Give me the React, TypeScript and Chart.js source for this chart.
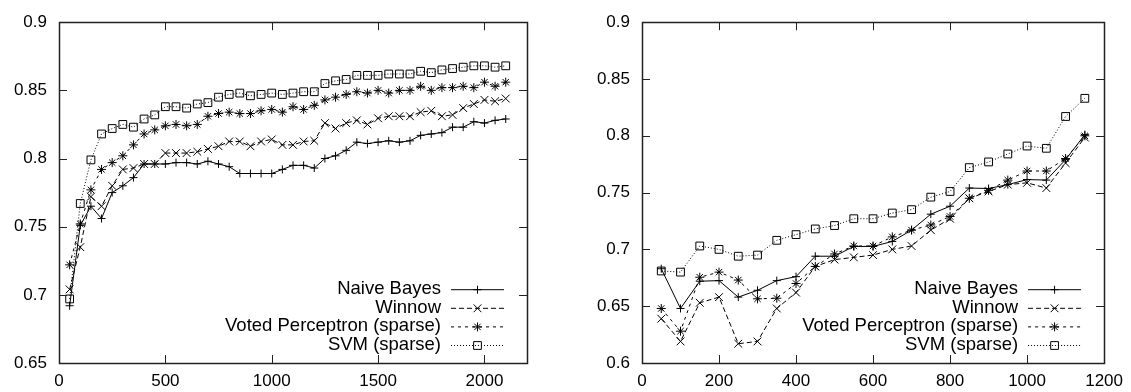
import React, { useEffect, useRef } from "react";
import { Chart, registerables } from "chart.js";

Chart.register(...registerables);

// ---------------- data ----------------
const SERIES_LABELS = ["Naive Bayes", "Winnow", "Voted Perceptron (sparse)", "SVM (sparse)"];

const leftXTicks = [0, 500, 1000, 1500, 2000];
const leftYTicks = [0.65, 0.7, 0.75, 0.8, 0.85, 0.9];
const rightXTicks = [0, 200, 400, 600, 800, 1000, 1200];
const rightYTicks = [0.6, 0.65, 0.7, 0.75, 0.8, 0.85, 0.9];

const leftX = [
  50, 100, 150, 200, 250, 300, 350, 400, 450, 500, 550, 600, 650, 700, 750, 800, 850, 900, 950, 1000, 1050,
  1100, 1150, 1200, 1250, 1300, 1350, 1400, 1450, 1500, 1550, 1600, 1650, 1700, 1750, 1800, 1850, 1900, 1950,
  2000, 2050, 2100,
];
const leftNaiveBayes = [
  0.692, 0.751, 0.765, 0.756, 0.775, 0.78, 0.786, 0.796, 0.796, 0.796, 0.797, 0.797, 0.796, 0.798, 0.796, 0.794,
  0.789, 0.789, 0.789, 0.789, 0.792, 0.795, 0.795, 0.793, 0.8, 0.802, 0.806, 0.812, 0.811, 0.812, 0.813, 0.812,
  0.813, 0.817, 0.818, 0.819, 0.823, 0.823, 0.827, 0.826, 0.828, 0.829,
];
const leftWinnow = [
  0.704, 0.735, 0.772, 0.765, 0.78, 0.792, 0.793, 0.796, 0.796, 0.804, 0.804, 0.804, 0.805, 0.807, 0.809, 0.8125,
  0.8125, 0.809, 0.8125, 0.814, 0.81, 0.81, 0.8125, 0.813, 0.826, 0.822, 0.826, 0.828, 0.825, 0.8295, 0.831, 0.831,
  0.831, 0.834, 0.835, 0.831, 0.832, 0.837, 0.84, 0.843, 0.842, 0.844,
];
const leftVoted = [
  0.722, 0.752, 0.777, 0.792, 0.797, 0.802, 0.81, 0.818, 0.821, 0.824, 0.825, 0.824, 0.825, 0.831, 0.833, 0.834,
  0.833, 0.833, 0.835, 0.836, 0.834, 0.838, 0.836, 0.839, 0.843, 0.845, 0.847, 0.849, 0.848, 0.85, 0.848, 0.85,
  0.85, 0.853, 0.85, 0.852, 0.852, 0.853, 0.852, 0.856, 0.853, 0.856,
];
const leftSvm = [
  0.697, 0.767, 0.799, 0.818, 0.822, 0.825, 0.823, 0.829, 0.832, 0.838, 0.838, 0.837, 0.84, 0.841, 0.845, 0.847,
  0.848, 0.846, 0.847, 0.848, 0.847, 0.848, 0.849, 0.849, 0.855, 0.857, 0.858, 0.861, 0.861, 0.861, 0.862, 0.862,
  0.862, 0.864, 0.863, 0.865, 0.866, 0.867, 0.868, 0.868, 0.867, 0.868,
];

const rightX = [
  50, 100, 150, 200, 250, 300, 350, 400, 450, 500, 550, 600, 650, 700, 750, 800, 850, 900, 950, 1000, 1050, 1100,
  1150,
];
const rightNaiveBayes = [
  0.683, 0.648, 0.672, 0.6725, 0.658, 0.664, 0.6725, 0.676, 0.694, 0.694, 0.7026, 0.7026, 0.707, 0.717, 0.731,
  0.738, 0.754, 0.7536, 0.757, 0.7615, 0.761, 0.779, 0.801,
];
const rightWinnow = [
  0.639, 0.619, 0.653, 0.658, 0.617, 0.619, 0.648, 0.662, 0.685, 0.691, 0.693, 0.695, 0.7, 0.703, 0.717, 0.727,
  0.745, 0.751, 0.757, 0.7586, 0.754, 0.776, 0.7985,
];
const rightVoted = [
  0.648, 0.628, 0.6755, 0.68, 0.673, 0.6565, 0.657, 0.67, 0.685, 0.696, 0.703, 0.703, 0.711, 0.717, 0.7215, 0.729,
  0.745, 0.752, 0.761, 0.769, 0.769, 0.78, 0.8,
];
const rightSvm = [
  0.681, 0.68, 0.703, 0.7, 0.694, 0.695, 0.708, 0.713, 0.718, 0.721, 0.727, 0.727, 0.732, 0.735, 0.746, 0.751,
  0.772, 0.777, 0.784, 0.791, 0.789, 0.817, 0.833,
];

// ---------------- styles ----------------
const FONT_FAMILY = "'Liberation Sans', Arial, Helvetica, sans-serif";
const TICK_FONT_SIZE = 17;
const LEGEND_FONT_SIZE = 18.5;

const SERIES_STYLES = [
  { pointStyle: "cross", pointRadius: 4, borderDash: [] as number[] },
  { pointStyle: "crossRot", pointRadius: 5.5, borderDash: [5, 3] },
  { pointStyle: "star", pointRadius: 4.5, borderDash: [3, 4] },
  { pointStyle: "rect", pointRadius: 5.5, borderDash: [1, 2] },
];

function drawMarker(ctx: CanvasRenderingContext2D, style: string, r: number, x: number, y: number) {
  ctx.save();
  ctx.setLineDash([]);
  ctx.beginPath();
  const d = r * Math.SQRT1_2;
  if (style === "cross" || style === "star") {
    ctx.moveTo(x - r, y);
    ctx.lineTo(x + r, y);
    ctx.moveTo(x, y - r);
    ctx.lineTo(x, y + r);
  }
  if (style === "crossRot" || style === "star") {
    ctx.moveTo(x - d, y - d);
    ctx.lineTo(x + d, y + d);
    ctx.moveTo(x - d, y + d);
    ctx.lineTo(x + d, y - d);
  }
  if (style === "rect") {
    ctx.rect(x - d, y - d, 2 * d, 2 * d);
  }
  ctx.stroke();
  ctx.restore();
}

const framePlugin = {
  id: "gnuFrame",
  afterDraw(chart: any) {
    const { ctx, chartArea } = chart;
    const { left, right, top, bottom } = chartArea;
    const xs = chart.scales.x;
    const ys = chart.scales.y;
    ctx.save();
    ctx.strokeStyle = "#222";
    ctx.lineWidth = 1;
    ctx.setLineDash([]);
    const tl = 8;
    ctx.beginPath();
    xs.ticks.forEach((t: any) => {
      const px = Math.round(xs.getPixelForValue(t.value)) + 0.5;
      if (px <= left + 1 || px >= right - 1) return;
      ctx.moveTo(px, bottom);
      ctx.lineTo(px, bottom - tl);
      ctx.moveTo(px, top);
      ctx.lineTo(px, top + tl);
    });
    ys.ticks.forEach((t: any) => {
      const py = Math.round(ys.getPixelForValue(t.value)) + 0.5;
      if (py <= top + 1 || py >= bottom - 1) return;
      ctx.moveTo(left, py);
      ctx.lineTo(left + tl, py);
      ctx.moveTo(right, py);
      ctx.lineTo(right - tl, py);
    });
    ctx.stroke();
    ctx.lineWidth = 1.5;
    ctx.strokeRect(Math.round(left) + 0.5, Math.round(top) + 0.5, Math.round(right - left), Math.round(bottom - top));

    // legend (gnuplot style: right-aligned text, sample line with marker)
    const n = chart.data.datasets.length;
    ctx.font = `${LEGEND_FONT_SIZE}px ${FONT_FAMILY}`;
    ctx.fillStyle = "#000";
    ctx.textAlign = "right";
    ctx.textBaseline = "middle";
    chart.data.datasets.forEach((ds: any, i: number) => {
      const y = bottom - 18 - (n - 1 - i) * 18.6;
      ctx.fillText(ds.label, right - 86, y);
      ctx.save();
      ctx.strokeStyle = "#000";
      ctx.lineWidth = 1;
      ctx.setLineDash(ds.borderDash || []);
      ctx.beginPath();
      ctx.moveTo(right - 76, y + 0.5);
      ctx.lineTo(right - 23, y + 0.5);
      ctx.stroke();
      ctx.restore();
      ctx.strokeStyle = "#000";
      ctx.lineWidth = 1;
      drawMarker(ctx, ds.pointStyle, ds.pointRadius, right - 49.5, y + 0.5);
    });
    ctx.restore();
  },
};

function buildDatasets(xs: number[], series: number[][]) {
  return series.map((vals, i) => ({
    label: SERIES_LABELS[i],
    data: vals.map((v, j) => ({ x: xs[j], y: v })),
    borderColor: "#000",
    backgroundColor: "transparent",
    borderWidth: 1,
    borderDash: SERIES_STYLES[i].borderDash,
    pointStyle: SERIES_STYLES[i].pointStyle,
    pointRadius: SERIES_STYLES[i].pointRadius,
    pointBorderColor: "#000",
    pointBackgroundColor: "transparent",
    pointBorderWidth: 1,
    tension: 0,
    fill: false,
  }));
}

type PanelProps = {
  xs: number[];
  series: number[][];
  xTicks: number[];
  yTicks: number[];
  xMax: number;
  yMin: number;
  yMax: number;
  yAxisWidth: number;
  padRight: number;
  width: number;
  left: number;
};

function Panel(p: PanelProps) {
  const ref = useRef<HTMLCanvasElement | null>(null);
  useEffect(() => {
    if (!ref.current) return;
    const chart = new Chart(ref.current, {
      type: "line",
      data: { datasets: buildDatasets(p.xs, p.series) as any },
      options: {
        responsive: false,
        animation: false,
        devicePixelRatio: 1,
        layout: { padding: { left: 0, right: p.padRight, top: 20, bottom: 0 } },
        plugins: { legend: { display: false }, tooltip: { enabled: false } },
        scales: {
          x: {
            type: "linear",
            min: 0,
            max: p.xMax,
            border: { display: false },
            grid: { display: false, drawTicks: false },
            afterBuildTicks: (s: any) => {
              s.ticks = p.xTicks.map((v) => ({ value: v }));
            },
            ticks: {
              autoSkip: false,
              maxRotation: 0,
              padding: 8,
              color: "#000",
              font: { family: FONT_FAMILY, size: TICK_FONT_SIZE },
              callback: (v: any) => String(v),
            },
            afterFit: (s: any) => {
              s.height = 29;
            },
          },
          y: {
            type: "linear",
            min: p.yMin,
            max: p.yMax,
            border: { display: false },
            grid: { display: false, drawTicks: false },
            afterBuildTicks: (s: any) => {
              s.ticks = p.yTicks.map((v) => ({ value: v }));
            },
            ticks: {
              autoSkip: false,
              padding: 12,
              color: "#000",
              font: { family: FONT_FAMILY, size: TICK_FONT_SIZE },
              callback: (v: any) => String(parseFloat(Number(v).toFixed(2))),
            },
            afterFit: (s: any) => {
              s.width = p.yAxisWidth;
            },
          },
        },
      } as any,
      plugins: [framePlugin],
    });
    return () => chart.destroy();
  }, []);
  return (
    <canvas
      ref={ref}
      width={p.width}
      height={392}
      style={{ position: "absolute", left: p.left, top: 0, width: p.width, height: 392 }}
    />
  );
}

export default function App() {
  return (
    <div style={{ position: "fixed", left: 0, top: 0, width: 1131, height: 392, background: "#fff" }}>
      <Panel
        xs={leftX}
        series={[leftNaiveBayes, leftWinnow, leftVoted, leftSvm]}
        xTicks={leftXTicks}
        yTicks={leftYTicks}
        xMax={2200}
        yMin={0.65}
        yMax={0.9}
        yAxisWidth={59}
        padRight={38}
        width={565}
        left={0}
      />
      <Panel
        xs={rightX}
        series={[rightNaiveBayes, rightWinnow, rightVoted, rightSvm]}
        xTicks={rightXTicks}
        yTicks={rightYTicks}
        xMax={1200}
        yMin={0.6}
        yMax={0.9}
        yAxisWidth={77}
        padRight={22}
        width={566}
        left={565}
      />
    </div>
  );
}
